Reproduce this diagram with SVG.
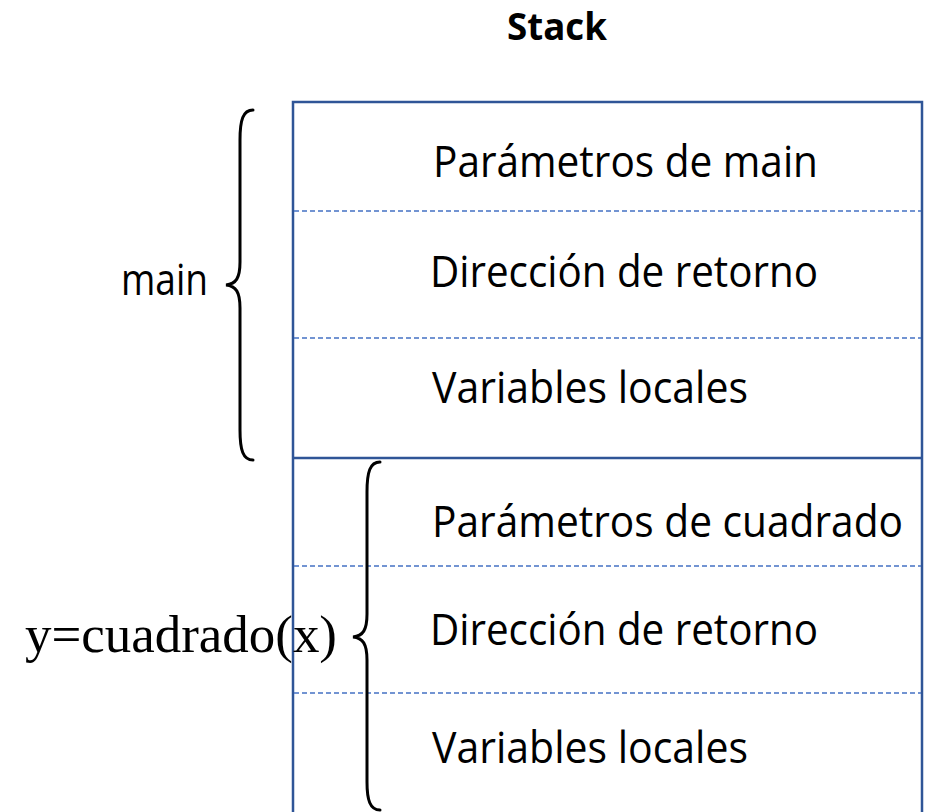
<svg xmlns="http://www.w3.org/2000/svg" width="931" height="812" viewBox="0 0 931 812">
  <style>
    .label { font-family: "Open Sans", "Noto Sans", sans-serif; font-size: 43px; fill: #000; }
    .title { font-family: "Open Sans", "Noto Sans", sans-serif; font-size: 37px; font-weight: bold; fill: #000; }
    .math { font-family: "Liberation Serif", "DejaVu Serif", serif; font-size: 52px; fill: #000; }
    .frame { fill: none; stroke: #2F5597; stroke-width: 2.5; }
    .divider { stroke: #4472C4; stroke-width: 1.3; stroke-dasharray: 5 3; }
    .brace { fill: none; stroke: #000; stroke-width: 3; stroke-linecap: round; }
  </style>
  <rect width="931" height="812" fill="#fff"/>

  <text class="title" x="557" y="40" text-anchor="middle" textLength="100" lengthAdjust="spacingAndGlyphs">Stack</text>

  <!-- stack outline and frame separator -->
  <g id="stack">
    <path class="frame" d="M293,830 L293,102 L922,102 L922,830"/>
    <line class="frame" x1="293" y1="458" x2="922" y2="458"/>
  </g>

  <!-- slot separators -->
  <g id="connectors">
    <line class="divider" x1="294" y1="211" x2="921" y2="211"/>
    <line class="divider" x1="294" y1="338" x2="921" y2="338"/>
    <line class="divider" x1="294" y1="566" x2="921" y2="566"/>
    <line class="divider" x1="294" y1="693" x2="921" y2="693"/>
  </g>

  <g id="main-params"><text class="label" x="433" y="177" textLength="385" lengthAdjust="spacingAndGlyphs">Parámetros de main</text></g>
  <g id="main-return"><text class="label" x="430" y="287" textLength="388" lengthAdjust="spacingAndGlyphs">Dirección de retorno</text></g>
  <g id="main-locals"><text class="label" x="432" y="403" textLength="316" lengthAdjust="spacingAndGlyphs">Variables locales</text></g>
  <g id="sq-params"><text class="label" x="432" y="537" textLength="471" lengthAdjust="spacingAndGlyphs">Parámetros de cuadrado</text></g>
  <g id="sq-return"><text class="label" x="430" y="645" textLength="388" lengthAdjust="spacingAndGlyphs">Dirección de retorno</text></g>
  <g id="sq-locals"><text class="label" x="432" y="763" textLength="316" lengthAdjust="spacingAndGlyphs">Variables locales</text></g>

  <!-- frame of main -->
  <g id="main-frame">
    <path class="brace" d="M253,110 C243,110 240,120 240,140 L240,262 C240,278 236,284 226,285 C236,286 240,292 240,308 L240,430 C240,450 243,460 253,460"/>
    <text class="label" x="121" y="295" textLength="87" lengthAdjust="spacingAndGlyphs">main</text>
  </g>

  <!-- frame of cuadrado -->
  <g id="call-frame">
    <path class="brace" d="M380,462 C370,462 367,472 367,492 L367,614 C367,630 363,636 353,637 C363,638 367,644 367,660 L367,782 C367,800 370,810 380,810"/>
    <text class="math" x="25" y="652" textLength="312" lengthAdjust="spacingAndGlyphs">y=cuadrado(x)</text>
  </g>
</svg>
